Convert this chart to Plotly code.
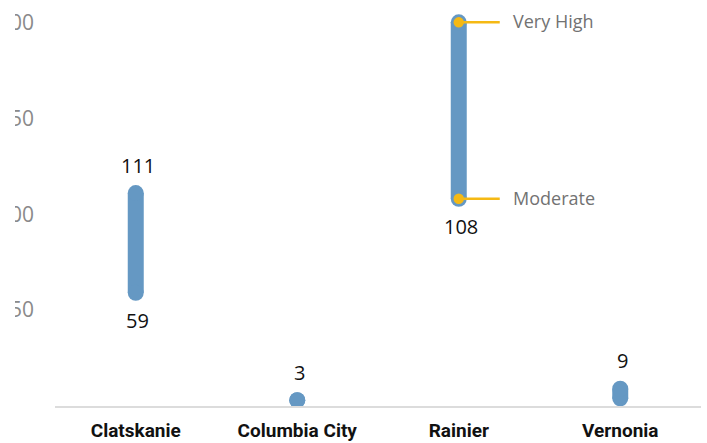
import plotly.graph_objects as go

# Data: range of values per town
towns = ["Clatskanie", "Columbia City", "Rainier", "Vernonia"]
low_vals = [59, 3, 108, 4]
high_vals = [111, 3, 200, 9]
show_low = [True, False, True, False]
show_high = [True, True, False, True]

# Rainier reference markers
ref_values = [200, 108]
ref_labels = ["Very High", "Moderate"]

y_ticks = [0, 50, 100, 150, 200]
y_ticktext = ["", "50", "100", "150", "200"]

BLUE = "#6598c3"
GOLD = "#f5b914"

fig = go.Figure()

for town, lo, hi in zip(towns, low_vals, high_vals):
    fig.add_trace(go.Scatter(
        x=[town, town], y=[lo, hi],
        mode="lines+markers",
        line=dict(color=BLUE, width=16),
        marker=dict(color=BLUE, size=16, line=dict(width=0)),
        showlegend=False, hoverinfo="skip",
    ))

# Gold connector lines for the Rainier reference levels
rainier_idx = towns.index("Rainier")
for val, lab in zip(ref_values, ref_labels):
    fig.add_shape(
        type="line", xref="x", yref="y",
        xsizemode="pixel", xanchor=rainier_idx, x0=0, x1=41,
        y0=val, y1=val,
        line=dict(color=GOLD, width=2.5), layer="above",
    )
    fig.add_annotation(
        x=rainier_idx, y=val, xref="x", yref="y",
        text=lab, showarrow=False, xanchor="left", yanchor="middle",
        xshift=52, yshift=1,
        font=dict(family="Open Sans", size=18, color="#727272"),
    )

fig.add_trace(go.Scatter(
    x=["Rainier"] * len(ref_values), y=ref_values,
    mode="markers",
    marker=dict(color=GOLD, size=12, line=dict(color=BLUE, width=1.5)),
    showlegend=False, hoverinfo="skip",
))

# Value labels at the bar ends
for town, lo, hi, sl, sh in zip(towns, low_vals, high_vals, show_low, show_high):
    if sh:
        fig.add_annotation(
            x=town, y=hi, text=str(hi), showarrow=False,
            yshift=28, xshift=2,
            font=dict(family="Open Sans", size=20, color="#111111"),
        )
    if sl:
        fig.add_annotation(
            x=town, y=lo, text=str(lo), showarrow=False,
            yshift=-28, xshift=2,
            font=dict(family="Open Sans", size=20, color="#111111"),
        )

# Blank strip along the left edge
fig.add_shape(
    type="rect", xref="paper", yref="paper",
    x0=-0.3, x1=(15 - 55) / 646, y0=-0.2, y1=1.2,
    fillcolor="white", line=dict(width=0), layer="above",
)

fig.update_layout(
    width=707, height=443,
    margin=dict(l=55, r=6, t=7, b=37),
    paper_bgcolor="white", plot_bgcolor="white",
    xaxis=dict(
        type="category", categoryorder="array", categoryarray=towns,
        range=[-0.5, 3.5],
        showgrid=False, zeroline=False,
        showline=True, linecolor="#dcdcdc", linewidth=1.5,
        ticks="", ticklabelstandoff=6,
        tickfont=dict(family="Roboto", size=19, color="#111111", weight="bold"),
        automargin=False,
    ),
    yaxis=dict(
        range=[0, 208],
        tickvals=y_ticks, ticktext=y_ticktext,
        showgrid=False, zeroline=False, showline=False,
        ticks="", ticklabelstandoff=20,
        tickfont=dict(family="Open Sans", size=21, color="#8a8a8a"),
        automargin=False,
    ),
)

fig.write_html("out.html")
